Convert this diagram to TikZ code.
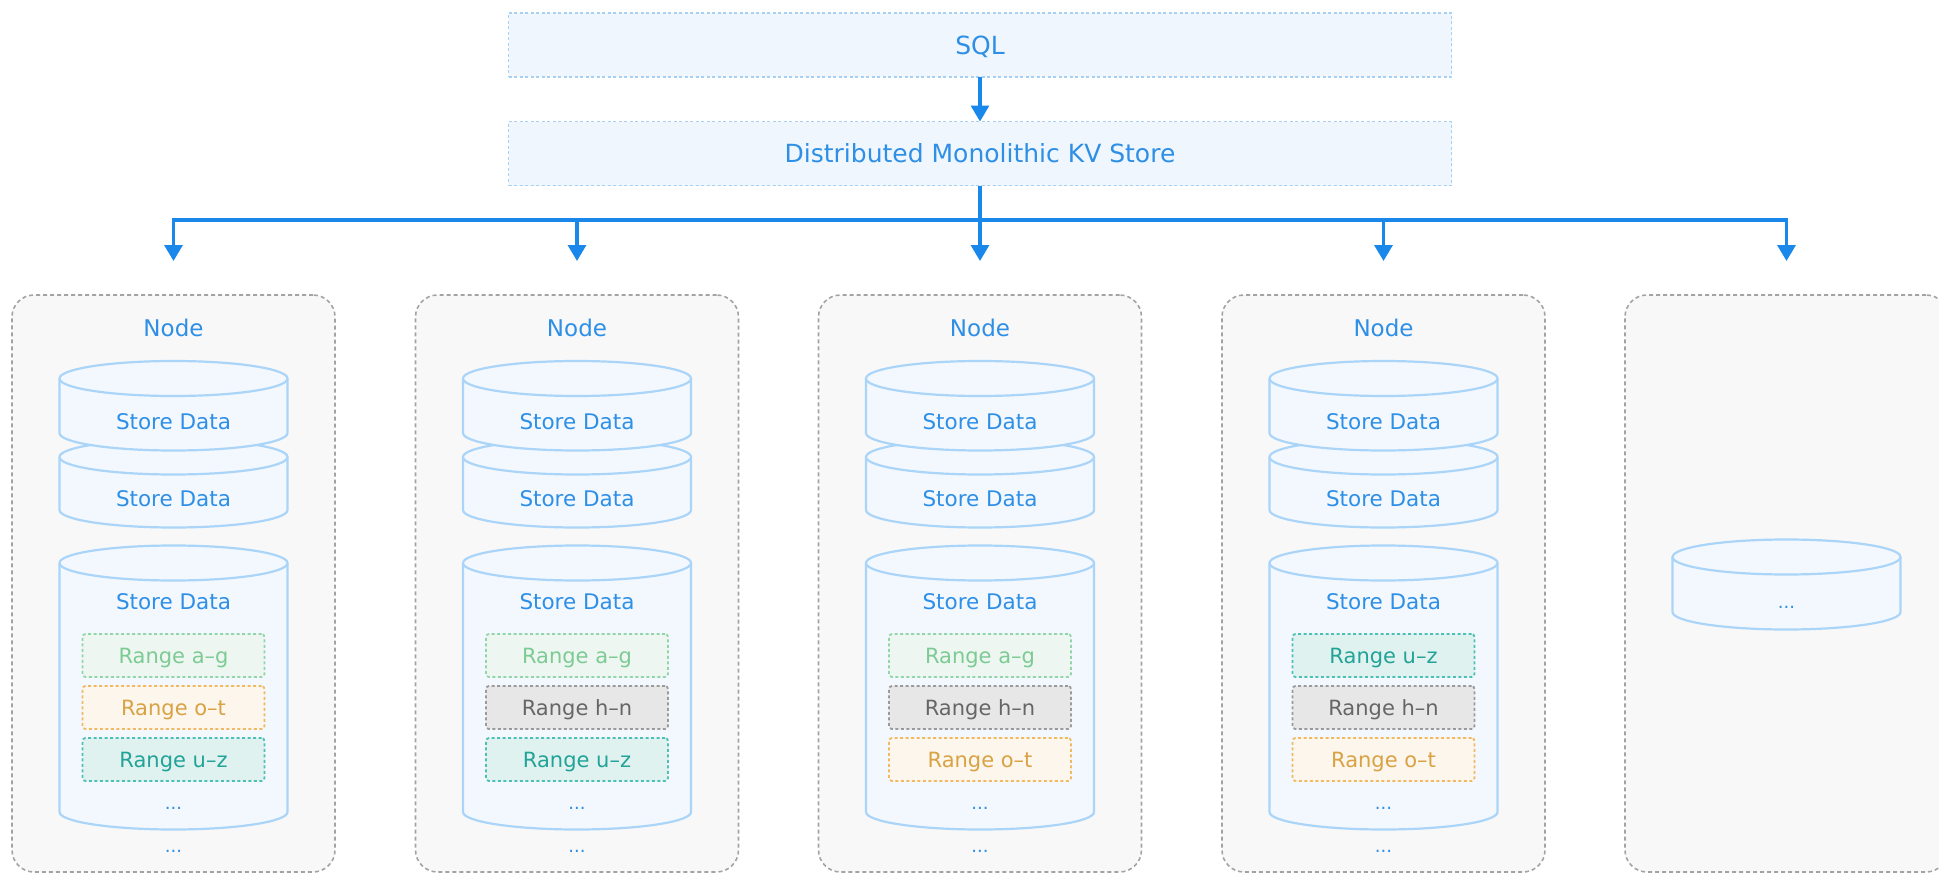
\documentclass[tikz,border=0pt]{standalone}
\usepackage{fontspec}
\setmainfont{DejaVu Sans}
\usetikzlibrary{arrows.meta}

\definecolor{flowblue}{HTML}{1A88EA}
\definecolor{txtblue}{HTML}{2E8FE6}
\definecolor{layerfill}{HTML}{F0F6FD}
\definecolor{layerline}{HTML}{A6D0F4}
\definecolor{hostfill}{HTML}{F8F8F8}
\definecolor{hostline}{HTML}{A3A3A3}
\definecolor{drumfill}{HTML}{F3F8FE}
\definecolor{drumline}{HTML}{ABD5F8}
\definecolor{agText}{HTML}{7DCB94}
\definecolor{agLine}{HTML}{92D5A8}
\definecolor{agFill}{HTML}{EEF6F1}
\definecolor{otText}{HTML}{D9A244}
\definecolor{otLine}{HTML}{F0B962}
\definecolor{otFill}{HTML}{FCF6EC}
\definecolor{uzText}{HTML}{22A398}
\definecolor{uzLine}{HTML}{4DC0B4}
\definecolor{uzFill}{HTML}{E0F2F0}
\definecolor{hnText}{HTML}{666666}
\definecolor{hnLine}{HTML}{9A9A9A}
\definecolor{hnFill}{HTML}{E7E7E7}

% A storage drum: centre x, top-ellipse centre y, bottom-ellipse centre y, name
\newcommand\drumshape[4]{%
  \pgfmathsetmacro\ddL{#1-114}\pgfmathsetmacro\ddR{#1+114}%
  \pgfmathsetmacro\ddKL{#1-63}\pgfmathsetmacro\ddKR{#1+63}%
  \pgfmathsetmacro\ddBY{#3+17.5}\pgfmathsetmacro\ddBK{#3+9.67}%
  \filldraw[drumbody] (\ddL,#2) -- (\ddL,#3)
    .. controls (\ddL,\ddBK) and (\ddKL,\ddBY) .. (#1,\ddBY)
    .. controls (\ddKR,\ddBY) and (\ddR,\ddBK) .. (\ddR,#3) -- (\ddR,#2);
  \filldraw[drumbody] (#1,#2) ellipse [x radius=114, y radius=17.5];
  \coordinate (#4) at (#1,{(#2+#3)/2});
}

\begin{document}
\begin{tikzpicture}[x=1pt,y=-1pt,
  every node/.style={inner sep=0pt, outer sep=0pt},
  flow/.style={draw=flowblue, line width=3.3pt, -{Triangle[width=18pt,length=16pt]}},
  layerbox/.style={draw=layerline, fill=layerfill, line width=1.8pt,
    dash pattern=on 3pt off 2.5pt, minimum width=943pt, minimum height=64pt,
    text=txtblue, font=\fontsize{25}{30}\selectfont, text height=18.2pt, text depth=0pt},
  hostbox/.style={draw=hostline, fill=hostfill, line width=1.6pt,
    dash pattern=on 4pt off 3pt, rounded corners=22pt,
    minimum width=323pt, minimum height=577pt},
  hostlabel/.style={text=txtblue, font=\fontsize{23}{28}\selectfont, text height=16.8pt, text depth=0pt},
  drumlabel/.style={text=txtblue, font=\fontsize{21.5}{26}\selectfont, text height=15.7pt, text depth=0pt},
  drumbody/.style={draw=drumline, fill=drumfill, line width=2.2pt},
  more/.style={text=txtblue, font=\fontsize{18}{22}\selectfont, anchor=base},
  rangebox/.style={rectangle, rounded corners=3pt, line width=1.8pt,
    dash pattern=on 3pt off 2.5pt, minimum width=182pt, minimum height=43pt,
    font=\fontsize{21}{25}\selectfont, text height=15.3pt, text depth=0pt},
  rangeA/.style={rangebox, draw=agLine, fill=agFill, text=agText},
  rangeO/.style={rangebox, draw=otLine, fill=otFill, text=otText},
  rangeU/.style={rangebox, draw=uzLine, fill=uzFill, text=uzText},
  rangeH/.style={rangebox, draw=hnLine, fill=hnFill, text=hnText},
]
\useasboundingbox (0,0) rectangle (1939,875);
\clip (0,0) rectangle (1939,875);

% layers
\node[layerbox] (sql) at (980,45) {SQL};
\node[layerbox] (kv) at (980,153.5) {Distributed Monolithic KV Store};
\draw[flow] (sql.south) -- (kv.north);

% storage hosts with their drums and ranges
\foreach \i/\cx/\ra/\ta/\rb/\tb/\rc/\tc in {
    1/173.5/rangeA/a–g/rangeO/o–t/rangeU/u–z,
    2/577/rangeA/a–g/rangeH/h–n/rangeU/u–z,
    3/980/rangeA/a–g/rangeH/h–n/rangeO/o–t,
    4/1383.5/rangeU/u–z/rangeH/h–n/rangeO/o–t} {
  \node[hostbox] (host\i) at (\cx,583.5) {};
  \node[hostlabel] (hostname\i) at (\cx,328) {Node};
  \drumshape{\cx}{457}{510}{drumb\i}
  \drumshape{\cx}{378.5}{433}{druma\i}
  \drumshape{\cx}{563}{812}{drumc\i}
  \node[drumlabel] (sda\i) at (\cx,422) {Store Data};
  \node[drumlabel] (sdb\i) at (\cx,499) {Store Data};
  \node[drumlabel] (sdc\i) at (\cx,602) {Store Data};
  \node[\ra] (ra\i) at (\cx,655.5) {Range \ta};
  \node[\rb] (rb\i) at (\cx,707.5) {Range \tb};
  \node[\rc] (rc\i) at (\cx,759.5) {Range \tc};
  \node[more] (moreIn\i) at (\cx,809) {...};
  \node[more] (moreOut\i) at (\cx,852.5) {...};
}

% the fifth host, only partly shown
\node[hostbox] (host5) at (1786.5,583.5) {};
\drumshape{1786.5}{557}{612}{drum5}
\node[more] (more5) at (1786.5,608.5) {...};

% fan-out from the KV layer to every host
\coordinate (bus) at (980,220);
\foreach \i in {1,2,4,5} {
  \draw[flow, shorten >=34pt] (kv.south) |- (host\i.north |- bus) -- (host\i.north);
}
\draw[flow, shorten >=34pt] (kv.south) -- (host3.north);
\end{tikzpicture}
\end{document}
